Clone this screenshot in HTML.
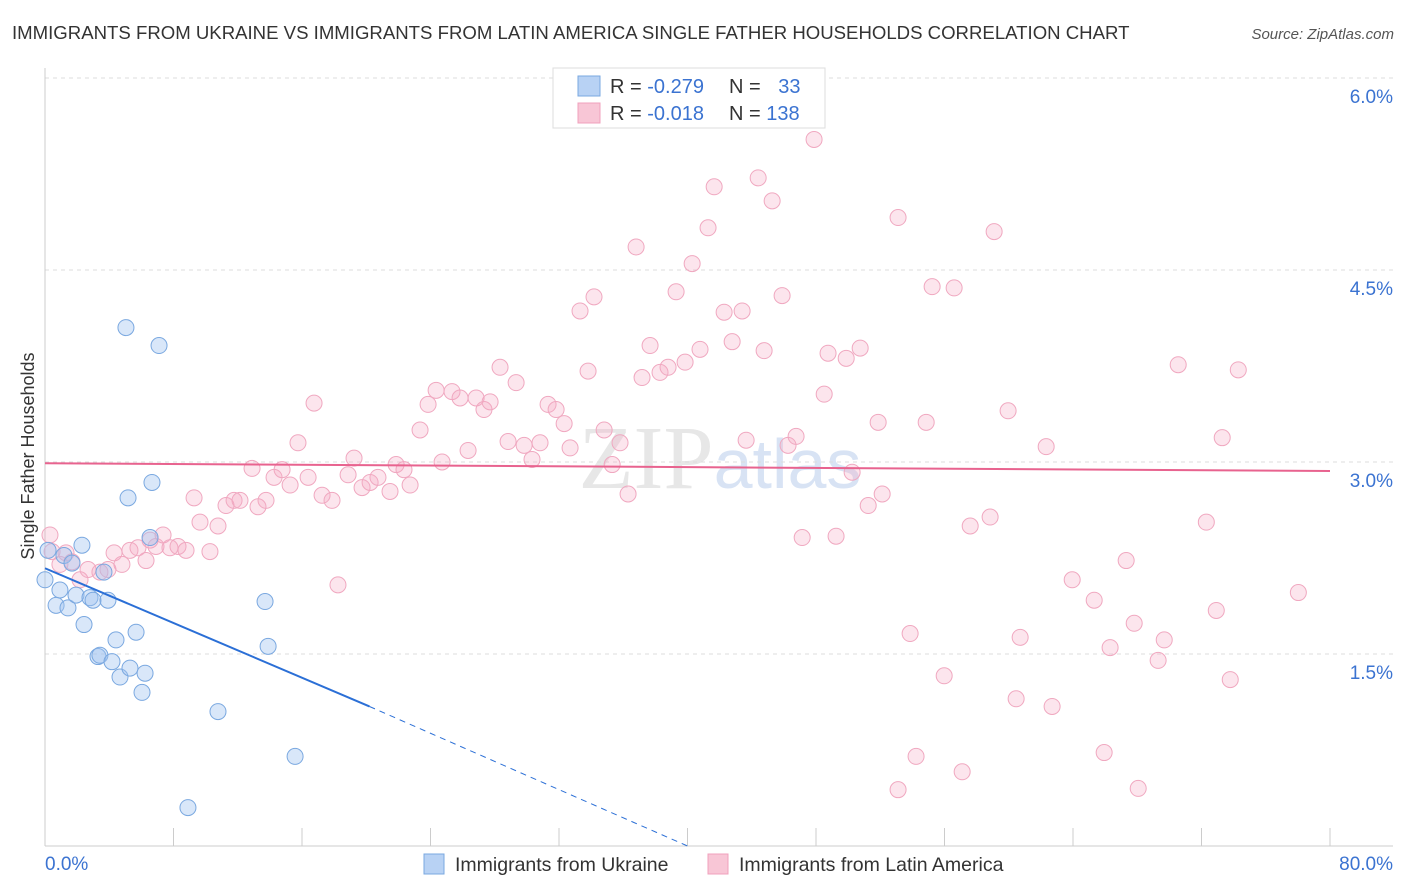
<!DOCTYPE html>
<html><head><meta charset="utf-8"><style>
body{margin:0;background:#fff;font-family:"Liberation Sans",sans-serif;}
svg{display:block}
</style></head><body>
<svg id="chart" width="1406" height="892" viewBox="0 0 1406 892">
<text x="12" y="39" font-size="18.6" fill="#333">IMMIGRANTS FROM UKRAINE VS IMMIGRANTS FROM LATIN AMERICA SINGLE FATHER HOUSEHOLDS CORRELATION CHART</text>
<text x="1394" y="39" font-size="15" fill="#555" text-anchor="end" font-style="italic">Source: ZipAtlas.com</text>
<text x="720" y="488" font-size="90" text-anchor="middle" font-family="Liberation Serif" fill="#ddd" opacity="0.7">ZIP<tspan fill="#c8d8f0" font-family="Liberation Sans" font-size="70">atlas</tspan></text>
<g id="grid"></g><g id="axes"></g><g id="pts"></g><g id="trends"></g>
<text transform="translate(34,456) rotate(-90)" font-size="18" fill="#333" text-anchor="middle">Single Father Households</text>
<g>
<rect x="553" y="68" width="272" height="60" fill="#fff" stroke="#ddd"/>
<rect x="578" y="76" width="22" height="20" fill="#b8d2f4" stroke="#7aa8e0"/>
<rect x="578" y="103" width="22" height="20" fill="#f8c6d6" stroke="#f0a0bc"/>
<text x="610" y="93" font-size="20" fill="#333">R = <tspan fill="#3b73d1">-0.279</tspan></text>
<text x="729" y="93" font-size="20" fill="#333">N = <tspan fill="#3b73d1" dx="12">33</tspan></text>
<text x="610" y="120" font-size="20" fill="#333">R = <tspan fill="#3b73d1">-0.018</tspan></text>
<text x="729" y="120" font-size="20" fill="#333">N = <tspan fill="#3b73d1">138</tspan></text>
</g>
<g>
<rect x="424" y="854" width="20" height="20" fill="#b8d2f4" stroke="#7aa8e0"/>
<text x="455" y="871" font-size="19.5" fill="#333">Immigrants from Ukraine</text>
<rect x="708" y="854" width="20" height="20" fill="#f8c6d6" stroke="#f0a0bc"/>
<text x="739" y="871" font-size="19.5" fill="#333">Immigrants from Latin America</text>
</g>
</svg>
<script>
const yTicks=[1.5,3.0,4.5,6.0];
const xTickVals=[0,8,16,24,32,40,48,56,64,72,80];
const blueX=[0.0,0.19,0.69,0.93,1.18,1.43,1.68,1.93,2.30,2.43,2.80,2.99,3.30,3.42,3.67,3.92,4.17,4.42,4.67,5.04,5.17,5.29,5.67,6.04,6.23,6.54,6.66,7.10,8.90,10.77,13.70,13.89,15.57];
const blueY=[2.08,2.31,1.88,2.00,2.27,1.86,2.21,1.96,2.35,1.73,1.94,1.92,1.48,1.49,2.14,1.92,1.44,1.61,1.32,4.05,2.72,1.39,1.67,1.20,1.35,2.41,2.84,3.91,0.30,1.05,1.91,1.56,0.70];
const pinkX=[0.31,0.44,0.93,1.31,1.68,2.18,2.68,3.42,3.92,4.30,4.79,5.29,5.79,6.29,6.54,6.91,7.35,7.78,8.28,8.78,9.28,9.65,10.27,10.77,11.27,11.77,12.14,12.89,13.26,13.76,14.26,14.76,15.26,15.75,16.38,16.75,17.25,17.87,18.24,18.87,19.24,19.74,20.24,20.73,21.48,21.86,22.35,22.73,23.35,23.85,24.35,24.72,25.34,25.84,26.34,26.84,27.33,27.71,28.33,28.83,29.33,29.83,30.32,30.82,31.32,31.82,32.32,32.69,33.31,33.81,34.18,34.81,35.31,35.80,36.30,36.80,37.17,37.67,38.29,38.79,39.29,39.85,40.29,40.78,41.28,41.66,42.28,42.78,43.40,43.65,44.40,44.77,45.27,45.89,46.26,46.76,47.14,47.88,48.51,48.75,49.25,49.88,50.25,50.75,51.25,51.87,52.12,53.11,53.86,54.23,54.86,55.23,55.98,56.60,57.10,57.60,58.84,59.09,59.96,60.46,60.71,62.33,62.70,63.95,65.32,65.94,66.31,67.31,67.81,68.06,69.30,69.68,70.55,72.30,72.92,73.29,73.79,74.29,78.03,53.11];
const pinkY=[2.43,2.30,2.20,2.29,2.22,2.08,2.16,2.14,2.16,2.29,2.20,2.31,2.33,2.23,2.39,2.34,2.43,2.33,2.34,2.31,2.72,2.53,2.30,2.50,2.66,2.70,2.70,2.95,2.65,2.70,2.88,2.94,2.82,3.15,2.88,3.46,2.74,2.70,2.04,2.90,3.03,2.80,2.84,2.88,2.77,2.98,2.94,2.82,3.25,3.45,3.56,3.00,3.55,3.50,3.09,3.50,3.41,3.47,3.74,3.16,3.62,3.13,3.02,3.15,3.45,3.41,3.30,3.11,4.18,3.71,4.29,3.25,2.98,3.15,2.75,4.68,3.66,3.91,3.70,3.74,4.33,3.78,4.55,3.88,4.83,5.15,4.17,3.94,4.18,3.17,5.22,3.87,5.04,4.30,3.13,3.20,2.41,5.52,3.53,3.85,2.42,3.81,2.92,3.89,2.66,3.31,2.75,4.91,1.66,0.70,3.31,4.37,1.33,4.36,0.58,2.50,2.57,4.80,3.40,1.15,1.63,3.12,1.09,2.08,1.92,0.73,1.55,2.23,1.74,0.45,1.45,1.61,3.76,2.53,1.84,3.19,1.30,3.72,1.98,0.44];
const blueTrend=[[0,2.17],[20.2,1.09],[40,0]];
const pinkTrend=[[0,2.99],[80,2.93]];
const NS="http://www.w3.org/2000/svg";
const X0=45,X1=1330,Y0=846,PXPERPCT=128;
const sx=v=>X0+v*(X1-X0)/80;
const sy=v=>Y0-v*PXPERPCT;
function mk(tag,attrs,parent){const e=document.createElementNS(NS,tag);for(const k in attrs)e.setAttribute(k,attrs[k]);parent.appendChild(e);return e;}
const grid=document.getElementById('grid'),axes=document.getElementById('axes'),pts=document.getElementById('pts'),tr=document.getElementById('trends');
yTicks.forEach(t=>{
 const l=mk('line',{x1:45,x2:1393,y1:sy(t),y2:sy(t),stroke:'#ddd','stroke-dasharray':'4,4'},grid);
 
 
 const tx=mk('text',{x:1393,y:sy(t)+25,'font-size':19,fill:'#3b73d1','text-anchor':'end'},grid);
 tx.textContent=t.toFixed(1)+'%';
 
 
});
const al=mk('line',{x1:45,x2:45,y1:68,y2:846,stroke:'#ccc'},axes);


const bl=mk('line',{x1:45,x2:1393,y1:846,y2:846,stroke:'#ccc'},axes);


xTickVals.forEach(t=>{
 const l=mk('line',{x1:sx(t),x2:sx(t),y1:828,y2:846,stroke:'#ccc'},axes);
 
 
});
[[0,'0.0%','start',45],[80,'80.0%','end',1393]].forEach(d=>{
 const tx=mk('text',{x:d[3],y:870,'font-size':19,fill:'#3b73d1','text-anchor':d[2]},axes);
 tx.textContent=d[1];
 
 
});
pinkX.forEach((v,i)=>{
 const c=mk('circle',{cx:sx(v),cy:sy(pinkY[i]),r:8,fill:'rgba(245,170,195,0.3)',stroke:'#f0a8c0','stroke-width':1},pts);
 
 
});
blueX.forEach((v,i)=>{
 const c=mk('circle',{cx:sx(v),cy:sy(blueY[i]),r:8,fill:'rgba(160,195,240,0.4)',stroke:'#7aa8e0','stroke-width':1},pts);
 
 
});
const b1=mk('line',{x1:sx(blueTrend[0][0]),y1:sy(blueTrend[0][1]),x2:sx(blueTrend[1][0]),y2:sy(blueTrend[1][1]),stroke:'#2b6fd6','stroke-width':2},tr);


const b2=mk('line',{x1:sx(blueTrend[1][0]),y1:sy(blueTrend[1][1]),x2:sx(blueTrend[2][0]),y2:sy(blueTrend[2][1]),stroke:'#2b6fd6','stroke-width':1,'stroke-dasharray':'6,5'},tr);


const p1=mk('line',{x1:sx(pinkTrend[0][0]),y1:sy(pinkTrend[0][1]),x2:sx(pinkTrend[1][0]),y2:sy(pinkTrend[1][1]),stroke:'#e8638f','stroke-width':2},tr);


</script>
</body></html>
